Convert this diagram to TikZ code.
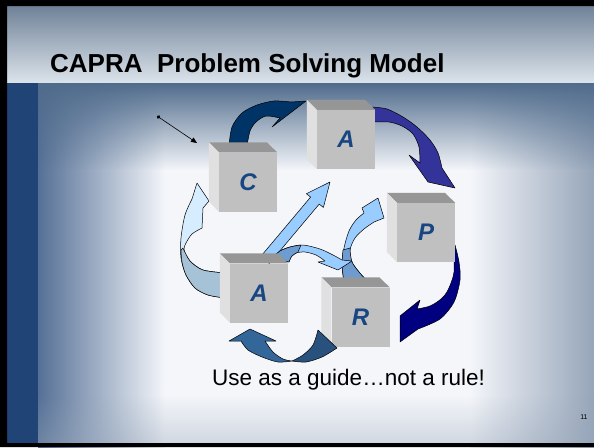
\documentclass[tikz,border=0pt]{standalone}
\usepackage{fontspec}
\setmainfont{Liberation Sans}
\usepackage{tikz}
\usetikzlibrary{positioning}
\usetikzlibrary{arrows.meta}
\usetikzlibrary{fadings}

\definecolor{slidewhite}{RGB}{244,246,250}
\definecolor{slideblue}{RGB}{31,68,117}
\definecolor{edgeblue}{RGB}{85,112,150}
\definecolor{rightgray}{RGB}{150,165,185}
\definecolor{topband}{RGB}{80,108,140}
\definecolor{titletop}{RGB}{112,130,152}
\definecolor{titlemid}{RGB}{185,197,210}
\definecolor{titlelow}{RGB}{220,228,235}
\definecolor{cubefront}{RGB}{192,192,192}
\definecolor{cubetop}{RGB}{150,150,150}
\definecolor{cubeside}{RGB}{224,224,224}
\definecolor{letterblue}{RGB}{24,70,130}
\definecolor{navyone}{RGB}{0,51,102}
\definecolor{indigo}{RGB}{51,51,153}
\definecolor{navytwo}{RGB}{0,0,128}
\definecolor{steel}{RGB}{51,102,153}
\definecolor{steeldark}{RGB}{40,82,125}
\definecolor{sky}{RGB}{153,204,255}
\definecolor{skydark}{RGB}{110,155,208}
\definecolor{ice}{RGB}{214,236,255}
\definecolor{icedark}{RGB}{166,194,214}

\tikzfading[name=fadesouth, top color=transparent!0, bottom color=transparent!100]
\tikzfading[name=fadenorth, top color=transparent!100, bottom color=transparent!0]

\begin{document}
\begin{tikzpicture}[x=1pt,y=-1pt,
    cube/.style={rectangle, fill=cubefront, minimum width=58pt, minimum height=59pt,
      inner sep=0pt, text=letterblue, font=\fontsize{24}{24}\selectfont\bfseries\itshape},
    outline/.style={draw=black, line width=0.5pt, line join=round}]
  \useasboundingbox (0,0) rectangle (594,447);
  % slide background
  \fill[slidewhite] (0,0) rectangle (594,447);
  \shade[top color=titletop, middle color=titlemid, bottom color=titlelow] (7,6) rectangle (594,83);
  \fill[slideblue] (7,83) rectangle (38,447);
  \shade[left color=edgeblue, right color=slidewhite] (38,83) rectangle (165,447);
  \shade[left color=slidewhite, right color=rightgray] (470,83) rectangle (594,447);
  \fill[topband, path fading=fadesouth] (38,83) rectangle (594,170);
  \fill[rightgray, path fading=fadenorth, opacity=0.4] (38,395) rectangle (594,447);
  \fill[black] (0,0) rectangle (594,6) (0,0) rectangle (7,447) (0,443) rectangle (594,447);

  % arrows behind the cubes
  \filldraw[fill=navyone, outline] plot[smooth] coordinates {(229,146) (232,127) (242,113) (257,105) (274,101) (291,102)}
    -- (306,101) -- (272,127) -- (280,118)
    -- plot[smooth] coordinates {(280,118) (266,116) (256,122) (250,131) (247,146)} -- cycle;
  \filldraw[fill=indigo, outline] plot[smooth] coordinates {(372,107) (387,109) (403,117) (417,127) (430,140) (438,153) (442,168)}
    -- (455,188) -- (428,182) -- (409,155) -- (420,163)
    -- plot[smooth] coordinates {(420,163) (419,147) (413,134) (402,126) (389,122) (372,122)} -- cycle;
  \filldraw[fill=navytwo, outline] plot[smooth] coordinates {(455,245) (459,262) (460,280) (454,302) (440,319) (418,329)}
    -- (400,342) -- (400,316) -- (420,300) -- (417,309)
    -- plot[smooth] coordinates {(417,309) (430,306) (441,299) (448,290) (454,272) (453,245)} -- cycle;
  \filldraw[fill=ice, outline] plot[smooth] coordinates {(225,298) (208,295) (195,288) (186,275) (181,258) (181,238) (185,215) (192,199)}
    -- (197,183) -- (209,201) -- (203,208) -- (202,228)
    -- plot[smooth] coordinates {(202,228) (192,234) (186,243) (184,250) (190,261) (203,270) (225,273)} -- cycle;
  \filldraw[fill=icedark, outline] plot[smooth] coordinates {(225,273) (203,270) (190,261) (183,248)}
    -- plot[smooth] coordinates {(181,250) (182,262) (186,275) (195,288) (208,295) (225,298)} -- cycle;
  \filldraw[fill=sky, outline] (269.3,263.5) -- (319.2,204.1) -- (323.4,207.5) -- (330,182)
    -- (306.4,193.7) -- (310.6,197.1) -- (260.7,256.5) -- cycle;
  \filldraw[fill=sky, outline] plot[smooth] coordinates {(344,282) (342,265) (344,248) (349,231) (356,220) (364,213)}
    -- (362,208) -- (378,198) -- (384,218) -- (374,222)
    -- plot[smooth] coordinates {(374,222) (364,229) (355,238) (350,250) (352,262) (359,272) (368,282)} -- cycle;
  \filldraw[fill=skydark, outline] plot[smooth] coordinates {(344,282) (342,265) (343,250)}
    -- (350,248) -- plot[smooth] coordinates {(350,250) (352,262) (359,272) (368,282)} -- cycle;
  \filldraw[fill=sky, outline] plot[smooth] coordinates {(272,258) (280,251) (290,247) (303,245) (320,249) (333,255) (342,260)}
    -- (352,261) -- (338,270) -- (318,262) -- (325,261)
    -- plot[smooth] coordinates {(325,261) (316,255) (305,252) (296,253) (291,257) (289,262)} -- cycle;
  \filldraw[fill=skydark, outline] plot[smooth] coordinates {(272,258) (280,251) (290,247) (301,245)}
    -- (298,252) -- plot[smooth] coordinates {(298,252) (292,256) (289,262)} -- cycle;

  % the five cubes
  \node[cube] (C) at (248,182) {C};
  \node[cube, on grid, above right=42.5pt and 98pt of C] (A1) {A};
  \node[cube, on grid, below right=93pt and 80pt of A1] (P) {P};
  \node[cube, on grid, below right=111pt and 11pt of C] (A2) {A};
  \node[cube, on grid, below right=24pt and 101.5pt of A2] (R) {R};
  \foreach \n in {C,A1,P,A2,R} {
    \fill[cubetop] (\n.north west) -- ++(-10,-10) -- ++(58,0) -- (\n.north east) -- cycle;
    \fill[cubeside] (\n.north west) -- ++(-10,-10) -- ++(0,59) -- (\n.south west) -- cycle;
  }

  % arrow in front of R
  \filldraw[fill=steel, outline] (250,329) -- (276,341) -- (265,341)
    -- plot[smooth] coordinates {(265,341) (273,352) (283,359) (292,361)}
    -- plot[smooth] coordinates {(292,361) (278,362) (262,357) (248,350) (241,341)} -- (229,341) -- cycle;
  \filldraw[fill=steeldark, outline] plot[smooth] coordinates {(292,361) (306,362) (322,357) (337,348)}
    -- (318,330) -- plot[smooth] coordinates {(318,330) (313,345) (303,355) (292,361)} -- cycle;

  % pointer
  \coordinate (dot) at (157,116);
  \coordinate (aim) at (197,143);
  \draw[{Circle[length=3.5pt]}-{Triangle[length=6pt,width=5pt]}, line width=0.6pt] (dot) -- (aim);

  % texts
  \node[anchor=base west, inner sep=0pt, font=\fontsize{26}{26}\selectfont\bfseries] (title) at (50,72) {CAPRA\ \ Problem Solving Model};
  \node[anchor=base west, inner sep=0pt, font=\fontsize{22.5}{22.5}\selectfont] (motto) at (212,385) {Use as a guide…not a rule!};
  \node[anchor=base, inner sep=0pt, font=\fontsize{7}{7}\selectfont] (page) at (584,419) {11};
\end{tikzpicture}
\end{document}
